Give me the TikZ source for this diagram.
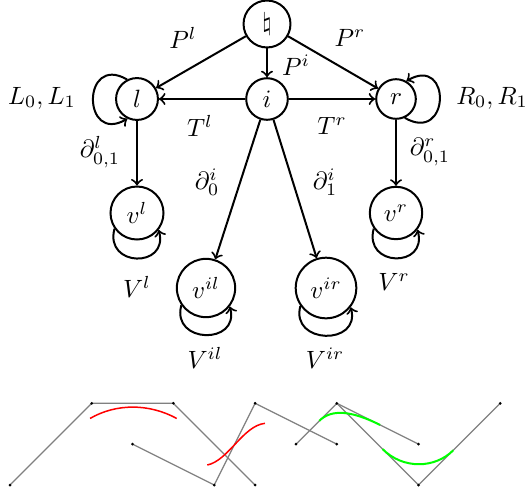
\documentclass[tikz,border=0pt]{standalone}
\begin{document}
\begin{tikzpicture}[x=0.40pt,y=-0.40pt,
  st/.style={circle,draw,thick},
  ed/.style={->,thick},
  gl/.style={draw=gray,line width=0.5pt},
  pt/.style={circle,fill=black,inner sep=0pt,minimum size=1.2pt}]
\useasboundingbox (0,0) rectangle (530,493);
% nodes
\node[st] (nat) at (267,24) {$\natural$};
\node[st] (l) at (137,99) {$l$};
\node[st] (i) at (267,99) {$i$};
\node[st] (r) at (396,99) {$r$};
\node[st] (vl) at (137,213) {$v^l$};
\node[st] (vr) at (396,213) {$v^r$};
\node[st] (vil) at (206,288) {$v^{il}$};
\node[st] (vir) at (326,288) {$v^{ir}$};
% edges
\draw[ed] (nat) -- (l);
\draw[ed] (nat) -- (i);
\draw[ed] (nat) -- (r);
\draw[ed] (i) -- (l);
\draw[ed] (i) -- (r);
\draw[ed] (l) -- (vl);
\draw[ed] (r) -- (vr);
\draw[ed] (i) -- (vil);
\draw[ed] (i) -- (vir);
% loops
\draw[ed] (l.117) .. controls +(150:21pt) and +(210:21pt) .. (l.244);
\draw[ed] (r.-65) .. controls +(-30:21pt) and +(30:21pt) .. (r.60);
\draw[ed] (vl.215) .. controls +(255:16pt) and +(285:16pt) .. (vl.-38);
\draw[ed] (vr.215) .. controls +(255:16pt) and +(285:16pt) .. (vr.-38);
\draw[ed] (vil.215) .. controls +(255:16pt) and +(285:16pt) .. (vil.-38);
\draw[ed] (vir.215) .. controls +(255:16pt) and +(285:16pt) .. (vir.-38);
% labels
\node (lPl) at (183,38) {$P^l$};
\node (lPr) at (350,38) {$P^r$};
\node (lPi) at (296,65) {$P^i$};
\node (lL) at (42,98) {$L_0,L_1$};
\node (lR) at (492,98) {$R_0,R_1$};
\node (lTl) at (200,126) {$T^l$};
\node (lTr) at (332,126) {$T^r$};
\node (ldl) at (100,152) {$\partial^l_{0,1}$};
\node (ldr) at (430,152) {$\partial^r_{0,1}$};
\node (ld0) at (207,182) {$\partial^i_0$};
\node (ld1) at (325,182) {$\partial^i_1$};
\node (lVl) at (137,287) {$V^l$};
\node (lVr) at (394,282) {$V^r$};
\node (lVil) at (205,358) {$V^{il}$};
\node (lVir) at (325,358) {$V^{ir}$};
% bottom curves
\begin{scope}[shift={(4pt,-194pt)},x=16.34pt,y=16.34pt]
\coordinate (q1) at (0,0);
\coordinate (q2) at (2,2);
\coordinate (q3) at (4,2);
\coordinate (q4) at (6,0);
\coordinate (q5) at (3,1);
\coordinate (q6) at (5,0);
\coordinate (q7) at (6,2);
\coordinate (q8) at (8,1);
\coordinate (q9) at (7,1);
\coordinate (q10) at (8,2);
\coordinate (q11) at (10,0);
\coordinate (q12) at (12,2);
\coordinate (q13) at (10,1);
\draw[gl] (q1) -- (q2) -- (q3) -- (q4);
\draw[gl] (q5) -- (q6) -- (q7) -- (q8);
\draw[gl] (q9) -- (q10) -- (q11) -- (q12);
\draw[gl] (q10) -- (q13);
\foreach \k in {1,...,13} {\node[pt] (d\k) at (q\k) {};}
\draw[red,line width=0.6pt] (1.96,1.63) .. controls (2.6,2.0) and (3.4,2.0) .. (4.08,1.63);
\draw[red,line width=0.6pt] (4.83,0.49) .. controls (5.35,0.6) and (5.7,1.45) .. (6.24,1.51);
\draw[green,line width=0.8pt] (7.57,1.57) .. controls (7.87,1.87) and (8.36,1.82) .. (9.06,1.47);
\draw[green,line width=0.8pt] (9.12,0.88) .. controls (9.62,0.38) and (10.4,0.4) .. (10.85,0.85);
\end{scope}
\end{tikzpicture}
\end{document}
